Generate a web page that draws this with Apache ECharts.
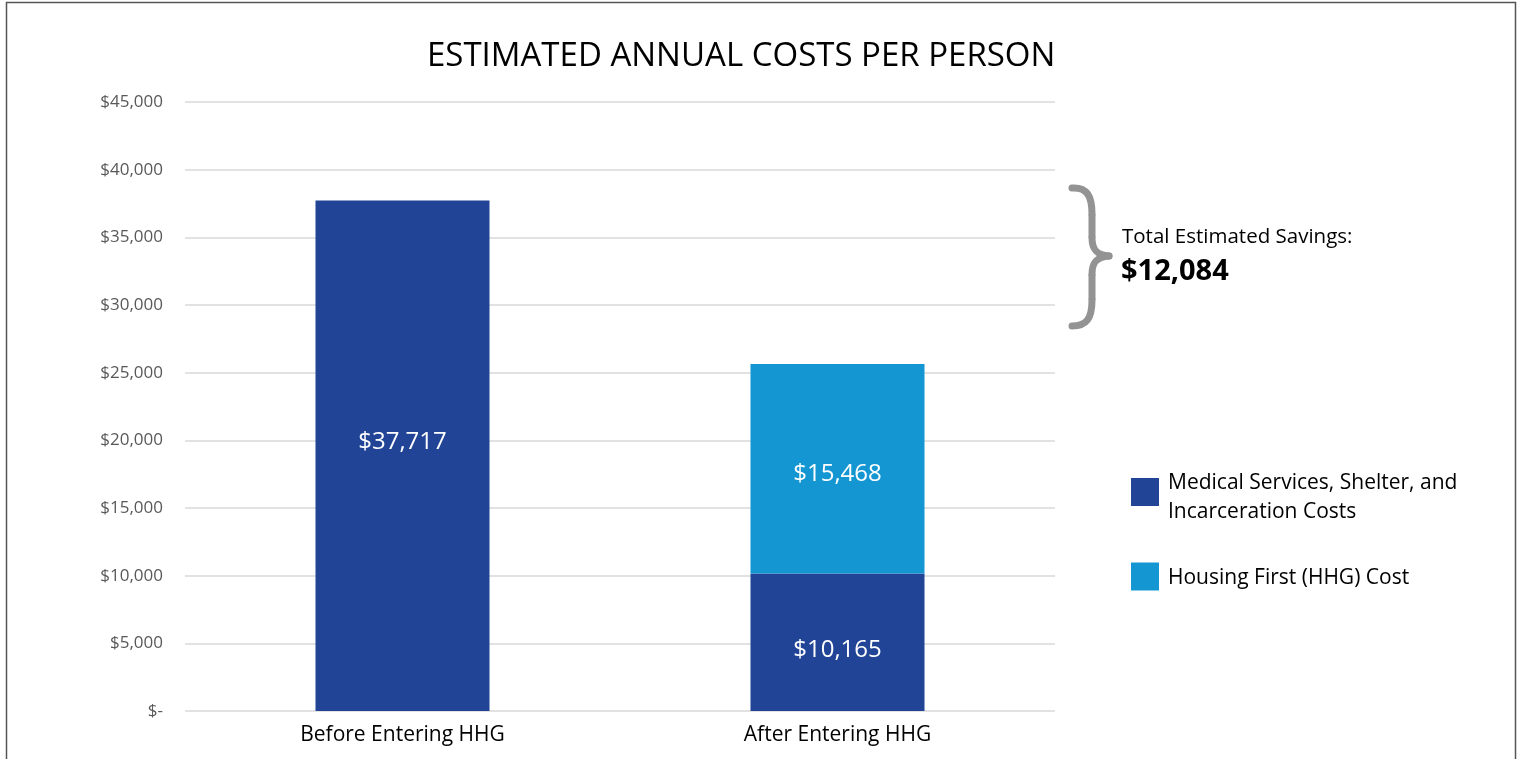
<!DOCTYPE html>
<html>
<head>
<meta charset="utf-8">
<script src="https://cdn.jsdelivr.net/npm/echarts@6/dist/echarts.min.js"></script>
<style>
  html, body { margin: 0; padding: 0; background: #fff; }
  #main { width: 1522px; height: 759px; }
</style>
</head>
<body>
<div id="main"></div>
<script>
var categories = ['Before Entering HHG', 'After Entering HHG'];
var medicalCosts = [37717, 10165];
var housingCosts = [null, 15468];
var seriesNames = ['Medical Services, Shelter, and\nIncarceration Costs', 'Housing First (HHG) Cost'];
var savingsText = '$12,084';

var font = 'Open Sans';
var myChart = echarts.init(document.getElementById('main'));

function money(v) {
    if (v === 0) return '$-';
    return '$' + v.toLocaleString('en-US');
}

// curly brace next to the savings note
var braceColor = '#939393';
function braceCurve(x1, y1, cpx1, cpy1, cpx2, cpy2, x2, y2) {
    return {
        type: 'bezierCurve',
        shape: { x1: x1, y1: y1, cpx1: cpx1, cpy1: cpy1, cpx2: cpx2, cpy2: cpy2, x2: x2, y2: y2 },
        style: { stroke: braceColor, lineWidth: 7, fill: null, lineCap: 'round' },
        silent: true
    };
}
function braceLine(x1, y1, x2, y2) {
    return {
        type: 'line',
        shape: { x1: x1, y1: y1, x2: x2, y2: y2 },
        style: { stroke: braceColor, lineWidth: 7 },
        silent: true
    };
}

var barLabel = { show: true, color: '#fff', fontFamily: font, fontSize: 24, formatter: function (p) { return money(p.value); } };

// legend squares: the empty moveTo stretches the icon box so the square
// sits level with the first text line instead of the middle of the block
var iconTop = 'path://M0,0L28,0L28,28L0,28Z M0,40';
var iconMid = 'path://M0,0 M0,4.5L28,4.5L28,32.5L0,32.5Z M0,40';

myChart.setOption({
    backgroundColor: '#fff',
    title: {
        text: 'ESTIMATED ANNUAL COSTS PER PERSON',
        left: 422,
        top: 35,
        textStyle: { fontFamily: font, fontSize: 33, fontWeight: 'normal', color: '#000' }
    },
    grid: { left: 185, right: 467, top: 102, bottom: 48 },
    legend: {
        orient: 'vertical',
        left: 1131,
        top: 469,
        padding: 0,
        itemWidth: 28,
        itemHeight: 40,
        itemGap: 31,
        data: [
            { name: seriesNames[0], icon: iconTop },
            { name: seriesNames[1], icon: iconMid }
        ],
        textStyle: { fontFamily: font, fontSize: 21, color: '#000', lineHeight: 29, padding: [0, 0, 0, 4] }
    },
    xAxis: {
        type: 'category',
        data: categories,
        axisLine: { show: false },
        axisTick: { show: false },
        axisLabel: { fontFamily: font, fontSize: 21, color: '#000', margin: 14 }
    },
    yAxis: {
        type: 'value',
        min: 0,
        max: 45000,
        interval: 5000,
        axisLabel: { fontFamily: font, fontSize: 17, color: '#595959', margin: 22, formatter: money },
        splitLine: { lineStyle: { color: '#d9d9d9', width: 1.5 } }
    },
    series: [
        {
            name: seriesNames[0],
            type: 'bar',
            stack: 'cost',
            barWidth: '40%',
            data: medicalCosts.map(function (v, i) {
                return { value: v, label: { offset: [0, i === 0 ? -14 : 8] } };
            }),
            itemStyle: { color: '#214497' },
            label: barLabel
        },
        {
            name: seriesNames[1],
            type: 'bar',
            stack: 'cost',
            barWidth: '40%',
            data: housingCosts.map(function (v) {
                return { value: v, label: { offset: [0, 5] } };
            }),
            itemStyle: { color: '#1496d2' },
            label: barLabel
        }
    ],
    graphic: [
        {
            type: 'rect',
            shape: { x: 6.5, y: 2.5, width: 1509, height: 760 },
            style: { fill: null, stroke: '#555', lineWidth: 1.5 },
            silent: true
        },
        braceCurve(1072, 188, 1087, 187, 1092, 196, 1092, 214),
        braceLine(1092, 214, 1092, 238),
        braceCurve(1092, 238, 1092, 250, 1097, 255, 1109, 256),
        braceCurve(1109, 256, 1097, 257, 1092, 262, 1092, 274),
        braceLine(1092, 274, 1092, 300),
        braceCurve(1092, 300, 1092, 318, 1087, 326, 1072, 326),
        {
            type: 'text',
            left: 1122,
            top: 227,
            style: { text: 'Total Estimated Savings:', fontFamily: font, fontSize: 20.5, fill: '#000' }
        },
        {
            type: 'text',
            left: 1121,
            top: 257,
            style: { text: savingsText, fontFamily: font, fontSize: 29, fontWeight: 'bold', fill: '#000' }
        }
    ]
});
</script>
</body>
</html>
